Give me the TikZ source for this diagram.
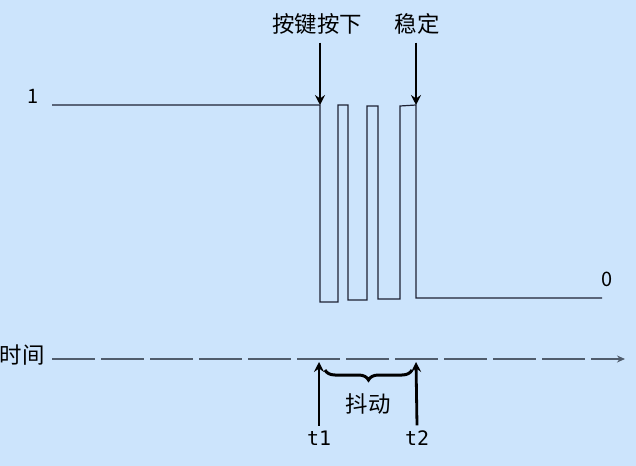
\documentclass[tikz,border=0pt]{standalone}
\usepackage{fontspec}
\setmainfont{Noto Sans CJK SC}
\newfontfamily\monofnt{DejaVu Sans Mono}
\usetikzlibrary{arrows.meta,decorations.pathreplacing}
\definecolor{bgc}{RGB}{204,228,252}
\definecolor{sig}{RGB}{30,34,52}
\definecolor{axc}{RGB}{80,92,108}
\tikzset{
  lbl/.style={inner sep=0pt, font=\fontsize{22.5}{22.5}\selectfont},
  numlbl/.style={inner sep=0pt, font=\fontsize{20}{20}\selectfont},
  tlbl/.style={inner sep=0pt, font=\monofnt\fontsize{20}{20}\selectfont},
  marker/.style={line width=2.8bp, -{Stealth[length=10bp,width=10bp,inset=3.5bp]}},
  wave/.style={line width=1.2bp, draw=sig},
  timeaxis/.style={line width=2.2bp, draw=axc, dash pattern=on 43bp off 6bp, -{Stealth[length=8bp,width=7bp]}},
}
\begin{document}
\begin{tikzpicture}[x=1bp,y=-1bp]
\fill[bgc] (0,0) rectangle (636,466);
\useasboundingbox (0,0) rectangle (636,466);
% labels
\node[lbl] (press) at (317,24) {按键按下};
\node[lbl] (stable) at (417,24) {稳定};
\node[numlbl] (one) at (33,96) {1};
\node[numlbl] (zero) at (607,279) {0};
\node[lbl] (time) at (22,355) {时间};
\node[lbl] (jitter) at (368,404) {抖动};
\node[tlbl] (t1) at (319,438) {t1};
\node[tlbl] (t2) at (417,438) {t2};
% waveform coordinates
\coordinate (w0) at (52,105);
\coordinate (p1) at (320,105);
\coordinate (p2) at (416,105);
\coordinate (we) at (602,298);
\draw[wave] (w0) -- (p1) -- (320,302) -- (338,302) -- (338,105) -- (348,105)
  -- (348,300) -- (367,300) -- (367,106) -- (378,106) -- (378,299) -- (400,299)
  -- (400,106) -- (p2) -- (416,298) -- (we);
% marker arrows
\draw[marker] ([yshift=-8bp]press.south -| p1) -- (p1);
\draw[marker] ([yshift=-8bp]stable.south -| p2) -- (p2);
% time axis
\coordinate (a0) at (52,359);
\coordinate (a1) at (625,359);
\draw[timeaxis] (a0) -- (a1);
% t1, t2 arrows
\coordinate (t1top) at (319,362);
\coordinate (t2top) at (416,362);
\draw[marker] ([yshift=5bp]t1.north) -- (t1top);
\draw[marker] ([yshift=5bp]t2.north) -- (t2top);
% brace
\coordinate (b0) at (325,370);
\coordinate (b1) at (412,370);
\draw[line width=3bp, decorate, decoration={brace, amplitude=10bp, aspect=0.5, mirror}] (b0) -- (b1);
\end{tikzpicture}
\end{document}
